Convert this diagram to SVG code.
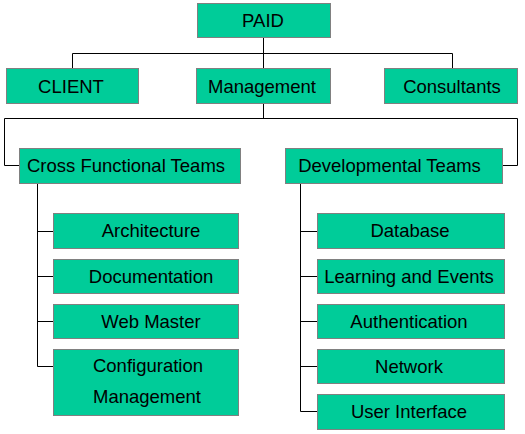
<svg xmlns="http://www.w3.org/2000/svg" width="525" height="434" viewBox="0 0 525 434">
<style>
.b{fill:#00CC99;stroke:#808080;stroke-width:1}
.t{font-family:"Liberation Sans",Arial,sans-serif;font-size:18.5px;fill:#000;text-anchor:middle}
.c{fill:none;stroke:#000;stroke-width:1}
</style>
<rect width="525" height="434" fill="#fff"/>
<g id="connectors">
<path class="c" d="M263.5 38V53.5M72.5 53.5H452.5M72.5 53.5V68M452.5 53.5V68M263.5 53.5V68"/>
<path class="c" d="M263.5 104V118.5M4.5 118.5H517.5M4.5 118.5V165.5H19M517.5 118.5V165.5H502"/>
<path class="c" d="M37.5 183V366.5M37.5 231.5H53M37.5 276.5H53M37.5 321.5H53M37.5 366.5H53"/>
<path class="c" d="M300.5 183V411.5M300.5 231.5H317M300.5 276.5H317M300.5 321.5H317M300.5 366.5H317M300.5 411.5H317"/>
</g>
<g id="paid"><rect class="b" x="197.5" y="3.5" width="133" height="34"/><text class="t" x="263" y="26.5">PAID</text></g>
<g id="client"><rect class="b" x="6.5" y="68.5" width="132" height="35"/><text class="t" x="71" y="92.5">CLIENT</text></g>
<g id="management"><rect class="b" x="196.5" y="68.5" width="134" height="35"/><text class="t" x="262" y="92.5">Management</text></g>
<g id="consultants"><rect class="b" x="384.5" y="68.5" width="133" height="35"/><text class="t" x="452" y="92.5">Consultants</text></g>
<g id="cross"><rect class="b" x="19.5" y="148.5" width="221" height="35"/><text class="t" x="126" y="171.5">Cross Functional Teams</text></g>
<g id="dev"><rect class="b" x="285.5" y="148.5" width="217" height="35"/><text class="t" x="389.5" y="171.5">Developmental Teams</text></g>
<g id="architecture"><rect class="b" x="53.5" y="213.5" width="185" height="35"/><text class="t" x="151" y="237">Architecture</text></g>
<g id="documentation"><rect class="b" x="53.5" y="259.5" width="185" height="34"/><text class="t" x="151" y="282.5">Documentation</text></g>
<g id="webmaster"><rect class="b" x="53.5" y="304.5" width="185" height="34"/><text class="t" x="151" y="327.5">Web Master</text></g>
<g id="config"><rect class="b" x="53.5" y="349.5" width="185" height="66"/><text class="t" x="148" y="372">Configuration</text><text class="t" x="147" y="402.5">Management</text></g>
<g id="database"><rect class="b" x="317.5" y="213.5" width="187" height="35"/><text class="t" x="410" y="237">Database</text></g>
<g id="learning"><rect class="b" x="317.5" y="259.5" width="187" height="34"/><text class="t" x="409" y="282.5">Learning and Events</text></g>
<g id="auth"><rect class="b" x="317.5" y="304.5" width="187" height="34"/><text class="t" x="409" y="327.5">Authentication</text></g>
<g id="network"><rect class="b" x="317.5" y="349.5" width="187" height="34"/><text class="t" x="409" y="372.5">Network</text></g>
<g id="ui"><rect class="b" x="317.5" y="394.5" width="187" height="35"/><text class="t" x="409" y="418">User Interface</text></g>
</svg>
